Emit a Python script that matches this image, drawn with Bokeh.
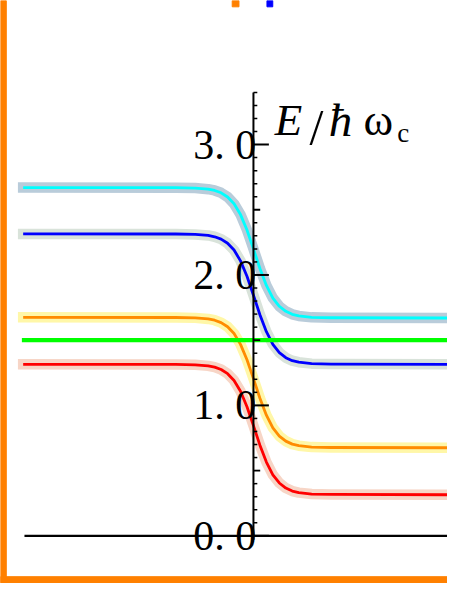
from bokeh.plotting import figure
from bokeh.core.properties import value
from bokeh.embed import file_html
from bokeh.resources import INLINE

# ---------------- data ----------------
x_pos = [-1.78, -0.6, -0.45, -0.35, -0.3, -0.25, -0.2, -0.15, -0.1, -0.05, 0.0,
         0.05, 0.1, 0.15, 0.2, 0.25, 0.3, 0.35, 0.45, 0.6, 1.5]
e_cyan = [2.67, 2.669, 2.666, 2.658, 2.648, 2.63, 2.598, 2.546, 2.463, 2.345, 2.2,
          2.05, 1.92, 1.823, 1.76, 1.721, 1.698, 1.686, 1.675, 1.672, 1.67]
e_blue = [2.315, 2.314, 2.311, 2.303, 2.293, 2.275, 2.243, 2.191, 2.108, 1.99, 1.845,
          1.695, 1.565, 1.468, 1.405, 1.366, 1.343, 1.331, 1.32, 1.317, 1.315]
e_orange = [1.675, 1.674, 1.671, 1.663, 1.653, 1.635, 1.603, 1.551, 1.468, 1.35, 1.205,
            1.055, 0.925, 0.828, 0.765, 0.726, 0.703, 0.691, 0.68, 0.677, 0.675]
e_red = [1.315, 1.314, 1.311, 1.303, 1.293, 1.275, 1.243, 1.191, 1.108, 0.99, 0.845,
         0.695, 0.565, 0.468, 0.405, 0.366, 0.343, 0.331, 0.32, 0.317, 0.315]
green_x = [-1.79, 1.5]
e_green = [1.5, 1.5]

major_ticks = [0.0, 1.0, 2.0, 3.0]
major_labels = ["0. 0", "1. 0", "2. 0", "3. 0"]
half_ticks = [0.5, 1.5, 2.5]
minor_ticks = [k / 10 for k in range(1, 35) if k % 5 != 0]
axis_top = 3.4
x_axis_left = -1.77
x_end = 1.5

# ---------------- layout helpers (reference pixel -> data) ----------------
REF_W, REF_H = 463, 599
PPU = 134.0          # pixels per unit in reference
AX_PX, ZERO_PY = 262.0, 550.0
W, H = 447, 583
FS = 0.97            # font scale

def X(px):
    return (px - AX_PX) / PPU

def Y(py):
    return (ZERO_PY - py) / PPU

p = figure(width=W, height=H, x_range=(X(0), X(REF_W)), y_range=(Y(REF_H), Y(0)),
           output_backend="svg", toolbar_location=None, min_border=0,
           x_axis_location=None, y_axis_location=None)
p.grid.visible = False
p.outline_line_color = None
p.background_fill_color = "white"
p.border_fill_color = "white"

ORANGE = "#FF8000"

# frame remnants
p.quad(left=[X(0)], right=[X(6)], bottom=[Y(REF_H)], top=[Y(0)], color=ORANGE)
p.quad(left=[X(0)], right=[X(REF_W)], bottom=[Y(598)], top=[Y(592)], color=ORANGE)
p.quad(left=[X(240)], right=[X(247)], bottom=[Y(6.5)], top=[Y(0)], color=ORANGE)
p.quad(left=[X(276)], right=[X(282)], bottom=[Y(6.5)], top=[Y(0)], color="#0000FF")

# halos
halo_w = 10.5
for ys, c in [(e_cyan, "#B9CCDA"), (e_blue, "#D9E3DA"),
              (e_orange, "#FFF7A8"), (e_red, "#F7D5C6")]:
    p.line(x_pos, ys, line_color=c, line_width=halo_w, line_cap="square", line_join="round")

# curves
for ys, c in [(e_cyan, "#00FFFF"), (e_blue, "#0000FF"),
              (e_orange, "#FF8C00"), (e_red, "#FF0000")]:
    p.line(x_pos, ys, line_color=c, line_width=2.8, line_join="round")

p.line(green_x, e_green, line_color="#00FF00", line_width=4.3)

# axes
p.line([x_axis_left, x_end], [0, 0], line_color="black", line_width=2.2)
p.segment(x0=[0], y0=[Y(554)], x1=[0], y1=[axis_top], line_color="black", line_width=2.0)

p.segment(x0=[0] * len(major_ticks), y0=major_ticks, x1=[16 / PPU] * len(major_ticks),
          y1=major_ticks, line_color="black", line_width=2.0)
p.segment(x0=[0] * len(half_ticks), y0=half_ticks, x1=[7 / PPU] * len(half_ticks),
          y1=half_ticks, line_color="black", line_width=1.8)
p.segment(x0=[0] * len(minor_ticks), y0=minor_ticks, x1=[4 / PPU] * len(minor_ticks),
          y1=minor_ticks, line_color="black", line_width=1.5)

serif = value("Liberation Serif")
p.text(x=[X(265)] * len(major_ticks), y=major_ticks, text=major_labels,
       text_font=serif, text_font_size=value(f"{43 * FS:.0f}px"),
       text_align="right", text_baseline="middle", text_color="black")

# axis label E/ħω_c
p.text(x=[X(284)], y=[Y(123)], text=["E"], text_font=serif, text_font_style="italic",
       text_font_size=value(f"{46 * FS:.0f}px"), text_align="left",
       text_baseline="alphabetic", text_color="black")
p.text(x=[X(320)], y=[Y(130)], text=["/"], text_font=serif,
       text_font_size=value(f"{52 * FS:.0f}px"), text_align="left",
       text_baseline="alphabetic", text_color="black")
p.text(x=[X(340)], y=[Y(123)], text=["ħ"], text_font=serif, text_font_style="italic",
       text_font_size=value(f"{48 * FS:.0f}px"), text_align="left",
       text_baseline="alphabetic", text_color="black")
p.text(x=[X(376)], y=[Y(123)], text=["ω"], text_font=serif,
       text_font_size=value(f"{46 * FS:.0f}px"), text_align="left",
       text_baseline="alphabetic", text_color="black")
p.text(x=[X(411)], y=[Y(136)], text=["c"], text_font=serif,
       text_font_size=value(f"{28 * FS:.0f}px"), text_align="left",
       text_baseline="alphabetic", text_color="black")

open("out.html", "w").write(file_html(p, INLINE))
